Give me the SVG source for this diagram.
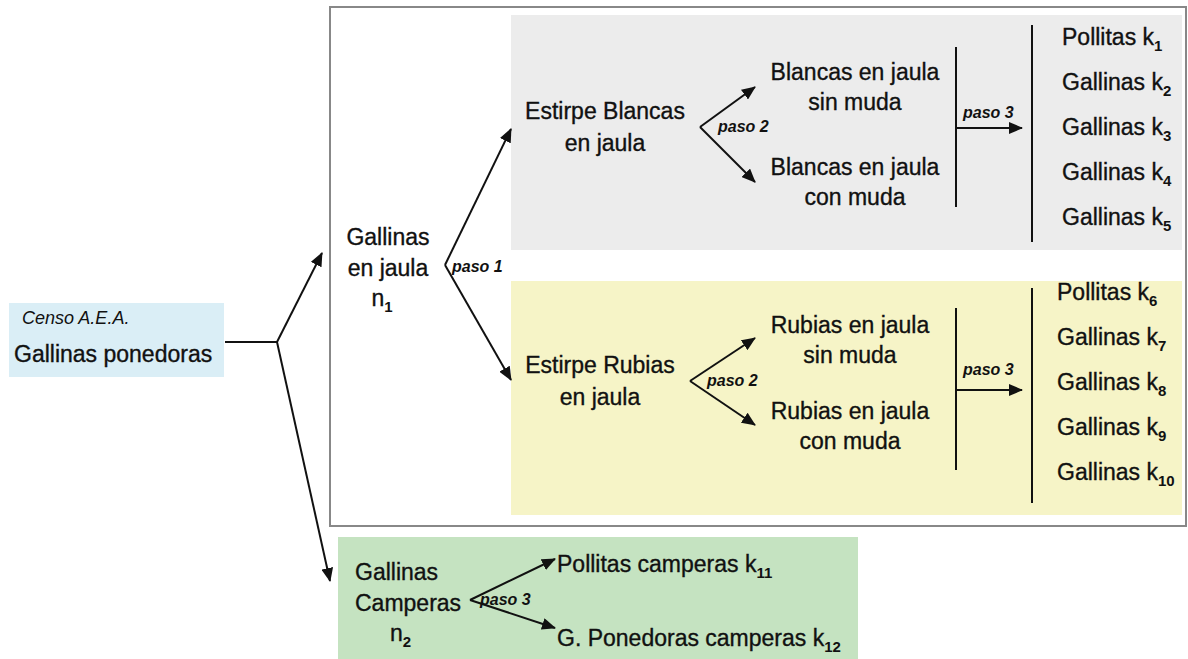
<svg xmlns="http://www.w3.org/2000/svg" width="1188" height="659" viewBox="0 0 1188 659">
<style>
.t{font-family:"Liberation Sans",Arial,sans-serif;font-size:23px;fill:#111;stroke:#111;stroke-width:0.35}
.c{text-anchor:middle}
.p{font-family:"Liberation Sans",Arial,sans-serif;font-size:16px;font-style:italic;font-weight:bold;fill:#111}
.s{font-size:15px;font-weight:bold;stroke-width:0}
.ln{stroke:#111;stroke-width:2;fill:none}
</style>
<defs>
<marker id="ah" markerUnits="userSpaceOnUse" markerWidth="14" markerHeight="12" refX="13" refY="6" orient="auto">
<path d="M0,0 L14,6 L0,12 z" fill="#111"/>
</marker>
</defs>
<rect x="0" y="0" width="1188" height="659" fill="#fff"/>
<rect id="outer" x="330" y="7" width="856" height="519" fill="none" stroke="#888" stroke-width="2"/>
<g id="censo">
<rect x="9" y="303" width="215" height="74" fill="#daeef6"/>
<text x="22" y="324" style="font-family:'Liberation Sans',Arial,sans-serif;font-size:18px;font-style:italic;fill:#111">Censo A.E.A.</text>
<text class="t" x="14" y="362">Gallinas ponedoras</text>
</g>
<g id="jaula">
<text class="t c" x="388" y="245">Gallinas</text>
<text class="t c" x="388" y="276">en jaula</text>
<text class="t c" x="382" y="306">n<tspan class="s" dy="6">1</tspan></text>
</g>
<g id="blancas">
<rect x="511" y="15" width="671" height="235" fill="#ececec"/>
<text class="t c" x="605" y="119">Estirpe Blancas</text>
<text class="t c" x="605" y="151">en jaula</text>
<text class="t c" x="855" y="80">Blancas en jaula</text>
<text class="t c" x="855" y="110">sin muda</text>
<text class="t c" x="855" y="175">Blancas en jaula</text>
<text class="t c" x="855" y="205">con muda</text>
<text class="t" x="1062" y="45">Pollitas k<tspan class="s" dy="6">1</tspan></text>
<text class="t" x="1062" y="90">Gallinas k<tspan class="s" dy="6">2</tspan></text>
<text class="t" x="1062" y="135">Gallinas k<tspan class="s" dy="6">3</tspan></text>
<text class="t" x="1062" y="180">Gallinas k<tspan class="s" dy="6">4</tspan></text>
<text class="t" x="1062" y="225">Gallinas k<tspan class="s" dy="6">5</tspan></text>
</g>
<g id="rubias">
<rect x="511" y="281" width="671" height="234" fill="#f6f4c7"/>
<text class="t c" x="600" y="373">Estirpe Rubias</text>
<text class="t c" x="600" y="405">en jaula</text>
<text class="t c" x="850" y="333">Rubias en jaula</text>
<text class="t c" x="850" y="363">sin muda</text>
<text class="t c" x="850" y="419">Rubias en jaula</text>
<text class="t c" x="850" y="449">con muda</text>
<text class="t" x="1057" y="300">Pollitas k<tspan class="s" dy="6">6</tspan></text>
<text class="t" x="1057" y="345">Gallinas k<tspan class="s" dy="6">7</tspan></text>
<text class="t" x="1057" y="390">Gallinas k<tspan class="s" dy="6">8</tspan></text>
<text class="t" x="1057" y="435">Gallinas k<tspan class="s" dy="6">9</tspan></text>
<text class="t" x="1057" y="480">Gallinas k<tspan class="s" dy="6">10</tspan></text>
</g>
<g id="camperas">
<rect x="338" y="537" width="520" height="122" fill="#c5e3c1"/>
<text class="t" x="355" y="580">Gallinas</text>
<text class="t" x="355" y="611">Camperas</text>
<text class="t" x="390" y="641">n<tspan class="s" dy="6">2</tspan></text>
<text class="t" x="557" y="572">Pollitas camperas k<tspan class="s" dy="6">11</tspan></text>
<text class="t" x="557" y="646">G. Ponedoras camperas k<tspan class="s" dy="6">12</tspan></text>
</g>
<g id="connectors">
<path class="ln" d="M225,342 H277"/>
<path class="ln" d="M277,342 L322,253" marker-end="url(#ah)"/>
<path class="ln" d="M277,342 L330,581" marker-end="url(#ah)"/>
<path class="ln" d="M445,265 L511,129" marker-end="url(#ah)"/>
<path class="ln" d="M445,265 L511,380" marker-end="url(#ah)"/>
<text class="p" x="452" y="272">paso 1</text>
<path class="ln" d="M700,127 L755,87" marker-end="url(#ah)"/>
<path class="ln" d="M700,127 L755,182" marker-end="url(#ah)"/>
<text class="p" x="718" y="132">paso 2</text>
<path class="ln" d="M956,47 V207"/>
<path class="ln" d="M956,128 H1022" marker-end="url(#ah)"/>
<text class="p" x="963" y="118">paso 3</text>
<path class="ln" d="M1032,25 V242"/>
<path class="ln" d="M690,381 L755,338" marker-end="url(#ah)"/>
<path class="ln" d="M690,381 L755,425" marker-end="url(#ah)"/>
<text class="p" x="707" y="386">paso 2</text>
<path class="ln" d="M956,308 V470"/>
<path class="ln" d="M956,390 H1022" marker-end="url(#ah)"/>
<text class="p" x="963" y="375">paso 3</text>
<path class="ln" d="M1032,288 V503"/>
<path class="ln" d="M470,600 L555,559" marker-end="url(#ah)"/>
<path class="ln" d="M470,600 L555,628" marker-end="url(#ah)"/>
<text class="p" x="480" y="605">paso 3</text>
</g>
</svg>
